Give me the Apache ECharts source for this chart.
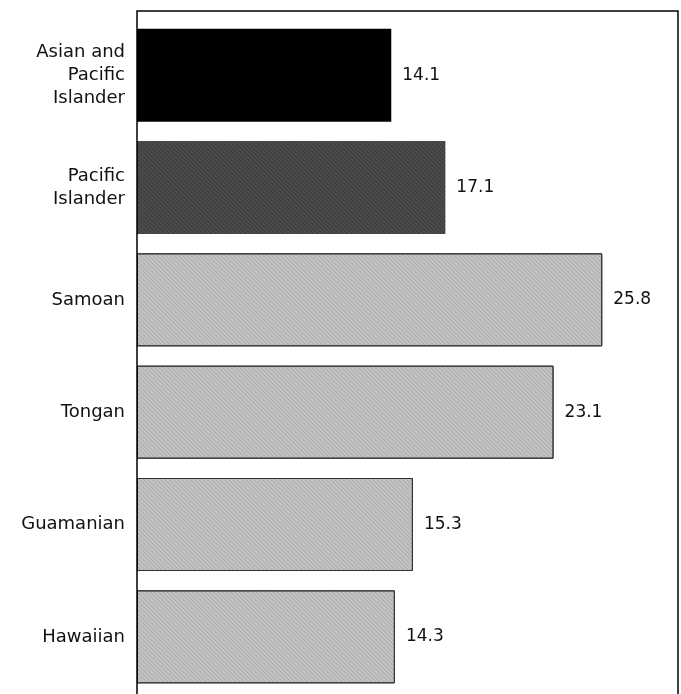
<!DOCTYPE html>
<html>
<head>
<meta charset="utf-8">
<script src="https://cdn.jsdelivr.net/npm/echarts@6/dist/echarts.min.js"></script>
<style>
html,body{margin:0;padding:0;background:#fff;}
#chart{width:681px;height:694px;}
</style>
</head>
<body>
<div id="chart"></div>
<script>
var categories = ['Asian and\nPacific\nIslander', 'Pacific\nIslander', 'Samoan', 'Tongan', 'Guamanian', 'Hawaiian'];
var values = [14.1, 17.1, 25.8, 23.1, 15.3, 14.3];
var barColors = ['#000000', '#4d4d4d', '#c4c4c4', '#c4c4c4', '#c4c4c4', '#c4c4c4'];
var barBorders = ['#000000', '#3a3a3a', '#333333', '#333333', '#333333', '#333333'];

var chart = echarts.init(document.getElementById('chart'), null, {renderer: 'canvas'});
var data = values.map(function (v, i) {
  var style = {
    color: barColors[i],
    borderColor: barBorders[i],
    borderWidth: i >= 2 ? 1 : 0
  };
  if (i >= 1) {
    style.decal = {
      symbol: 'rect',
      symbolSize: 1,
      color: i === 1 ? 'rgba(0,0,0,0.25)' : 'rgba(0,0,0,0.12)',
      dashArrayX: [1, 0],
      dashArrayY: [1, 2],
      rotation: Math.PI / 4
    };
  }
  return {value: v, itemStyle: style};
});
chart.setOption({
  animation: false,
  grid: {left: 137, right: 3, top: 19, height: 674},
  xAxis: {
    type: 'value', min: 0, max: 30, show: false
  },
  yAxis: {
    type: 'category',
    inverse: true,
    data: categories,
    axisLine: {show: false},
    axisTick: {show: false},
    axisLabel: {
      margin: 12,
      color: '#111',
      fontFamily: 'DejaVu Sans, sans-serif',
      fontSize: 18,
      lineHeight: 23,
      align: 'right'
    }
  },
  graphic: [{
    type: 'rect',
    shape: {x: 137, y: 11, width: 541, height: 700},
    style: {fill: 'none', stroke: '#000', lineWidth: 1.5},
    z: 10
  }],
  series: [{
    type: 'bar',
    data: data,
    barWidth: 93,
    label: {
      show: true,
      position: 'right',
      distance: 11,
      color: '#111',
      fontFamily: 'DejaVu Sans, sans-serif',
      fontSize: 17,
      formatter: function (p) { return p.value.toFixed(1); }
    }
  }]
});
</script>
</body>
</html>
